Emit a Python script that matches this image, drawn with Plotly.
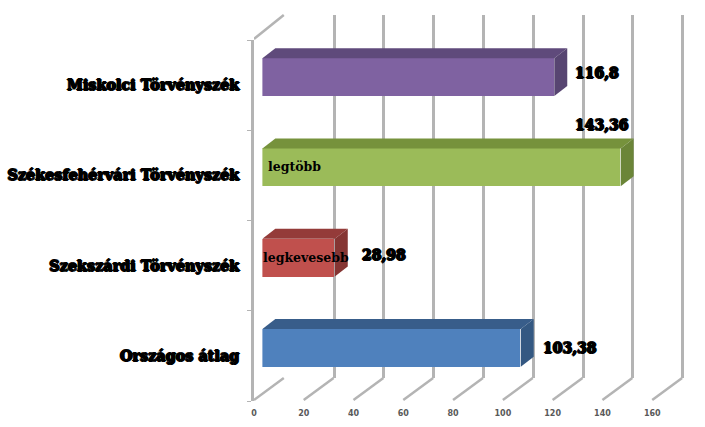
import plotly.graph_objects as go

W, H = 705, 427

categories = ["Országos átlag", "Szekszárdi Törvényszék", "Székesfehérvári Törvényszék", "Miskolci Törvényszék"]
values = [103.38, 28.98, 143.36, 116.8]
value_labels = ["103,38", "28,98", "143,36", "116,8"]
axis_ticks = [0, 20, 40, 60, 80, 100, 120, 140, 160]

front_colors = ["#4f81bd", "#c0504d", "#9bbb59", "#7f62a1"]
top_colors = ["#385d8a", "#943b39", "#76923c", "#5f4a7b"]
side_colors = ["#345882", "#853533", "#6b8538", "#574571"]

GRID = "#b4b4b4"
PX_PER_UNIT = 2.5
BAR_PX_PER_UNIT = 2.51
BAR_W = 0.42
# bar depth in data units (13px across, 10px up)
DX = 13 / BAR_PX_PER_UNIT
DY = 10 / 90.25

# left edges of the three planes, px
BACK_LEFT = 282.5
FRONT_LEFT = 252
BAR_LEFT = 260.5


def xdom(left):
    return [left / W, 1]


def ydom(top, bottom):
    return [1 - bottom / H, 1 - top / H]


fig = go.Figure()

# left wall + category labels live on x2/y2
fig.add_trace(go.Scatter(x=[0] * 4, y=categories, mode="markers", marker=dict(opacity=0, size=1),
                         xaxis="x2", yaxis="y2", hoverinfo="skip", showlegend=False))
# back wall
fig.add_trace(go.Scatter(x=[0], y=[0], mode="markers", marker=dict(opacity=0, size=1),
                         xaxis="x", yaxis="y", hoverinfo="skip", showlegend=False))

# bars: front faces, then top and side faces from the same values
idx = list(range(len(values)))
fig.add_trace(go.Bar(x=values, y=idx, orientation="h", width=BAR_W, xaxis="x3", yaxis="y3",
                     marker=dict(color=front_colors, line=dict(width=0)), showlegend=False, hoverinfo="skip"))
for i, v in zip(idx, values):
    top = i + BAR_W / 2
    bot = i - BAR_W / 2
    fig.add_trace(go.Scatter(x=[0, v, v + DX, DX, 0], y=[top, top, top + DY, top + DY, top], fill="toself",
                             fillcolor=top_colors[i], mode="none", xaxis="x3", yaxis="y3",
                             hoverinfo="skip", showlegend=False))
    fig.add_trace(go.Scatter(x=[v, v + DX, v + DX, v, v], y=[top, top + DY, bot + DY, bot, top], fill="toself",
                             fillcolor=side_colors[i], mode="none", xaxis="x3", yaxis="y3",
                             hoverinfo="skip", showlegend=False))

# floor lines and top of the left wall
shapes = []
floor_top = ydom(378, 400)
for t in axis_ticks:
    shapes.append(dict(type="line", xref="x2", yref="paper", x0=t, x1=t + 30 / PX_PER_UNIT,
                       y0=floor_top[0], y1=floor_top[1], line=dict(color=GRID, width=2.5), layer="below"))
wall_top = ydom(15, 39)
shapes.append(dict(type="line", xref="x2", yref="paper", x0=0, x1=30 / PX_PER_UNIT,
                   y0=wall_top[0], y1=wall_top[1], line=dict(color=GRID, width=2.5), layer="below"))

HEAVY = "1px 0 0 #000, -1px 0 0 #000, 0 1px 0 #000, 0 -1px 0 #000"
LABEL_FONT = dict(family="DejaVu Serif", size=14.4, color="#000000", weight="bold", shadow=HEAVY)
VALUE_FONT = dict(family="DejaVu Serif", size=14, color="#000000", weight="bold", shadow=HEAVY)
INNER_FONT = dict(family="DejaVu Serif", size=12.5, color="#000000", weight="bold")

# hand placed in the original, so offsets from the bar end
label_shift = [(20, 0), (25, 3), (-48, 42), (19, 4)]
annotations = []
for i, (v, txt) in enumerate(zip(values, value_labels)):
    annotations.append(dict(x=v, y=i, xref="x3", yref="y3", text=txt, showarrow=False, xanchor="left",
                            xshift=label_shift[i][0], yshift=label_shift[i][1], font=VALUE_FONT))
annotations.append(dict(x=0, y=2, xref="x3", yref="y3", text="legtöbb", showarrow=False, xanchor="left",
                        xshift=4, yshift=1, font=INNER_FONT))
annotations.append(dict(x=0, y=1, xref="x3", yref="y3", text="legkevesebb", showarrow=False, xanchor="left",
                        xshift=-1, yshift=0, font=INNER_FONT))

fig.update_layout(
    width=W, height=H, autosize=False,
    margin=dict(l=0, r=0, t=0, b=0),
    paper_bgcolor="white", plot_bgcolor="rgba(0,0,0,0)",
    bargap=0, shapes=shapes, annotations=annotations,
    # back wall gridlines
    xaxis=dict(domain=xdom(BACK_LEFT), range=[0, (W - BACK_LEFT) / PX_PER_UNIT], tickvals=axis_ticks, showgrid=True,
               gridcolor=GRID, gridwidth=2.5, zeroline=False, showticklabels=False, ticks="", anchor="y"),
    yaxis=dict(domain=ydom(15, 378), range=[0, 1], visible=False, anchor="x"),
    # front plane: ticks and category labels
    xaxis2=dict(domain=xdom(FRONT_LEFT), range=[0, (W - FRONT_LEFT) / PX_PER_UNIT], tickvals=axis_ticks, showgrid=False,
                zeroline=False, showline=False, ticks="outside", ticklen=4, tickcolor="rgba(0,0,0,0)",
                tickfont=dict(family="DejaVu Sans", size=8, color="#595959", weight="bold"), anchor="y2"),
    yaxis2=dict(domain=ydom(40, 401), type="category", categoryorder="array", categoryarray=categories,
                range=[-0.5, 3.5], showgrid=False, zeroline=False, showline=True, linecolor=GRID, linewidth=2.5,
                ticks="outside", ticklen=4, tickcolor=GRID, tickwidth=1, tickson="boundaries",
                ticklabelstandoff=9, tickfont=LABEL_FONT, anchor="x2"),
    # bars
    xaxis3=dict(domain=xdom(BAR_LEFT), range=[0, (W - BAR_LEFT) / BAR_PX_PER_UNIT], visible=False, anchor="y3"),
    yaxis3=dict(domain=ydom(32, 393), range=[-0.5, 3.5], visible=False, anchor="x3"),
)

fig.write_html("out.html", config=dict(displayModeBar=False), post_script="document.body.style.margin = '0';")
